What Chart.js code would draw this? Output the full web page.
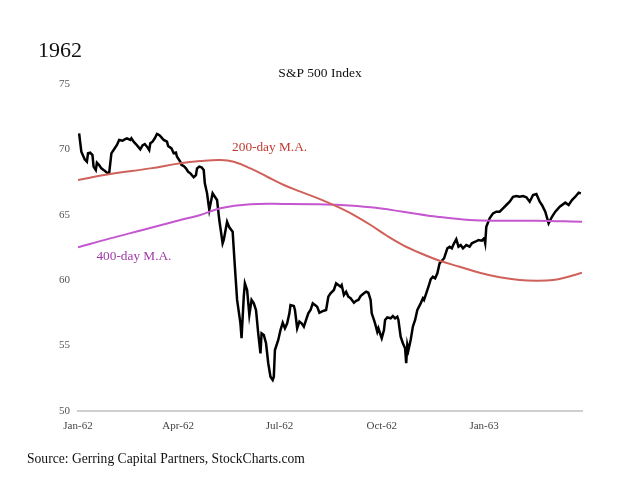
<!DOCTYPE html>
<html>
<head>
<meta charset="utf-8">
<script src="https://cdn.jsdelivr.net/npm/chart.js@4/dist/chart.umd.min.js"></script>
<style>
  html, body { margin: 0; padding: 0; background: #fff; }
  #wrap { width: 640px; height: 480px; }
</style>
</head>
<body>
<div id="wrap"><canvas id="spxChart" width="640" height="480"></canvas></div>
<script>
// --- Axis ticks (days since Jan 1, 1962) ---
const tickDays = [0, 90, 181, 273, 365];
const tickLabels = ["Jan-62", "Apr-62", "Jul-62", "Oct-62", "Jan-63"];

// --- S&P 500 closes (day offset, index level) ---
const spxDays = [
  1, 3, 6, 8, 9, 11, 13, 14, 16, 17, 19, 21, 23, 24, 26, 28, 30, 32, 35, 37,
  40, 42, 44, 47, 48, 50, 52, 54, 56, 58, 60, 62, 64, 65, 67, 69, 71, 73, 75, 77,
  80, 81, 84, 86, 88, 89, 92, 93, 95, 97, 99, 101, 104, 106, 107, 109, 111, 113, 114, 116,
  118, 121, 123, 125, 127, 130, 131, 134, 136, 139, 141, 143, 146, 147, 149, 150, 152, 154, 156, 158,
  160, 162, 164, 165, 167, 169, 171, 173, 175, 176, 177, 180, 182, 184, 186, 188, 190, 191, 194, 195,
  197, 199, 201, 203, 205, 207, 209, 211, 213, 215, 217, 219, 221, 223, 225, 227, 230, 232, 234, 236,
  237, 239, 241, 243, 245, 248, 250, 252, 254, 257, 259, 261, 263, 264, 266, 267, 269, 270, 272, 273,
  275, 276, 278, 281, 283, 285, 287, 288, 290, 292, 294, 295, 296, 297, 299, 301, 303, 305, 308, 310,
  311, 313, 315, 317, 319, 321, 323, 325, 327, 329, 332, 334, 336, 338, 340, 342, 344, 346, 349, 352,
  354, 357, 360, 363, 365, 366, 367, 370, 373, 376, 379, 382, 385, 388, 391, 394, 397, 400, 403, 406,
  409, 412, 415, 417, 420, 423, 426, 429, 433, 438, 441, 444, 447, 450, 452
];
const spxClose = [
  71.23, 69.82, 69.24, 69.06, 69.70, 69.75, 69.57, 68.68, 68.42, 68.98, 68.81, 68.55, 68.42, 68.37, 68.22, 68.17, 69.70, 69.95, 70.34, 70.72,
  70.66, 70.77, 70.85, 70.72, 70.85, 70.59, 70.41, 70.21, 70.01, 70.31, 70.41, 70.21, 69.95, 70.47, 70.59, 70.85, 71.18, 71.10, 70.92, 70.72,
  70.59, 70.26, 70.08, 69.70, 69.75, 69.44, 69.06, 68.81, 68.73, 68.55, 68.29, 68.17, 67.87, 68.04, 68.55, 68.68, 68.63, 68.42, 67.41, 66.64,
  65.37, 66.64, 66.38, 66.13, 64.60, 62.82, 63.07, 64.47, 64.04, 63.71, 61.03, 58.49, 56.70, 55.56, 58.74, 59.76, 59.25, 57.34, 58.49, 58.23,
  57.72, 55.94, 54.41, 55.94, 55.81, 55.18, 53.65, 52.62, 52.37, 52.62, 54.66, 55.43, 56.19, 56.75, 56.32, 56.70, 57.47, 58.10, 58.03, 57.72,
  56.32, 56.83, 56.70, 56.45, 56.96, 57.47, 57.72, 58.23, 58.10, 57.97, 57.51, 57.59, 57.67, 57.72, 58.74, 59.00, 59.25, 59.76, 59.63, 59.50,
  59.63, 58.87, 59.12, 58.74, 58.62, 58.28, 58.43, 58.49, 58.79, 59.00, 59.12, 59.04, 58.49, 57.47, 56.96, 56.70, 56.06, 56.32, 55.81, 55.56,
  56.19, 56.96, 57.16, 57.09, 57.26, 57.09, 57.21, 56.96, 55.68, 55.18, 54.79, 53.65, 55.05, 54.66, 55.43, 56.45, 56.96, 57.72, 58.23, 58.62,
  58.49, 59.00, 59.50, 60.07, 60.27, 60.14, 60.53, 61.29, 61.49, 61.67, 62.44, 62.56, 62.44, 62.82, 63.13, 62.56, 62.69, 62.44, 62.69, 62.56,
  62.82, 62.94, 63.07, 63.02, 63.20, 62.82, 64.09, 64.73, 65.11, 65.24, 65.24, 65.50, 65.75, 66.00, 66.38, 66.44, 66.38, 66.44, 66.34, 66.00,
  66.51, 66.59, 66.00, 65.75, 65.24, 64.35, 64.85, 65.24, 65.62, 65.93, 65.75, 66.13, 66.38, 66.69, 66.64
];

// --- Moving averages (day offset, level) ---
const ma200Days = [0, 29, 65, 92, 110, 128, 140, 155, 170, 185, 200, 218, 233, 248, 263, 278, 292, 308, 325, 343, 361, 379, 397, 412, 427, 439, 453];
const ma200 = [67.66, 68.12, 68.55, 68.94, 69.11, 69.19, 69.06, 68.55, 67.91, 67.28, 66.77, 66.18, 65.62, 64.98, 64.22, 63.38, 62.69, 62.06, 61.49, 61.03, 60.57, 60.22, 60.01, 59.96, 60.01, 60.22, 60.57];
const ma400Days = [0, 29, 58, 92, 110, 128, 155, 185, 215, 236, 263, 292, 323, 352, 382, 412, 453];
const ma400 = [62.51, 63.20, 63.84, 64.60, 64.98, 65.50, 65.80, 65.83, 65.81, 65.75, 65.57, 65.24, 64.85, 64.60, 64.55, 64.55, 64.47];

// --- Labels on the lines (anchored in data space) ---
const maLabels = [
  { text: "200-day M.A.", day: 138.5, value: 70.18, color: "#c0392f" },
  { text: "400-day M.A.", day: 16.6, value: 61.80, color: "#a23aa8" }
];

const serif = "'Liberation Serif', 'Times New Roman', serif";

function toPoints(xs, ys) {
  return xs.map((x, i) => ({ x: x, y: ys[i] }));
}

// --- Headings, source line and line labels ---
const textPlugin = {
  id: 'textPlugin',
  afterDraw(chart) {
    const c = chart.ctx;
    const xs = chart.scales.x;
    const ys = chart.scales.y;
    c.save();
    c.textBaseline = 'middle';
    c.fillStyle = '#111';
    c.textAlign = 'left';
    c.font = "22px " + serif;
    c.fillText("1962", 38, 51);
    c.textAlign = 'center';
    c.font = "13.5px " + serif;
    c.fillText("S&P 500 Index", 320, 73);
    c.textAlign = 'left';
    c.font = "13.6px " + serif;
    c.fillText("Source: Gerring Capital Partners, StockCharts.com", 27, 459);
    c.font = "13.3px " + serif;
    maLabels.forEach(l => {
      c.fillStyle = l.color;
      c.fillText(l.text, xs.getPixelForValue(l.day), ys.getPixelForValue(l.value));
    });
    c.restore();
  }
};

const ctx = document.getElementById('spxChart').getContext('2d');
const spxChart = new Chart(ctx, {
  type: 'line',
  data: {
    datasets: [
      {
        label: "200-day M.A.",
        data: toPoints(ma200Days, ma200),
        borderColor: '#d0615a',
        borderWidth: 2,
        pointRadius: 0,
        tension: 0.4
      },
      {
        label: "400-day M.A.",
        data: toPoints(ma400Days, ma400),
        borderColor: '#c457d0',
        borderWidth: 2,
        pointRadius: 0,
        tension: 0.4
      },
      {
        label: "S&P 500",
        data: toPoints(spxDays, spxClose),
        borderColor: '#000000',
        borderWidth: 2.5,
        pointRadius: 0,
        tension: 0
      }
    ]
  },
  plugins: [textPlugin],
  options: {
    responsive: false,
    animation: false,
    layout: { padding: { left: 0, right: 58, top: 84, bottom: 0 } },
    plugins: {
      legend: { display: false },
      tooltip: { enabled: false }
    },
    scales: {
      x: {
        type: 'linear',
        min: 0,
        max: 453,
        afterBuildTicks: (s) => { s.ticks = tickDays.map(v => ({ value: v })); },
        afterFit: (s) => { s.height = 69; },
        grid: { display: false, drawTicks: false },
        border: { display: true, color: '#cfcfcf', width: 2 },
        ticks: {
          padding: 9,
          maxRotation: 0,
          color: '#444',
          font: { family: serif, size: 11 },
          callback: (v) => tickLabels[tickDays.indexOf(v)] || ''
        }
      },
      y: {
        min: 50,
        max: 75,
        afterFit: (s) => { s.width = 78; },
        grid: { display: false, drawTicks: false },
        border: { display: false },
        ticks: {
          stepSize: 5,
          padding: 8,
          color: '#555',
          font: { family: serif, size: 11 }
        }
      }
    }
  }
});
</script>
</body>
</html>
